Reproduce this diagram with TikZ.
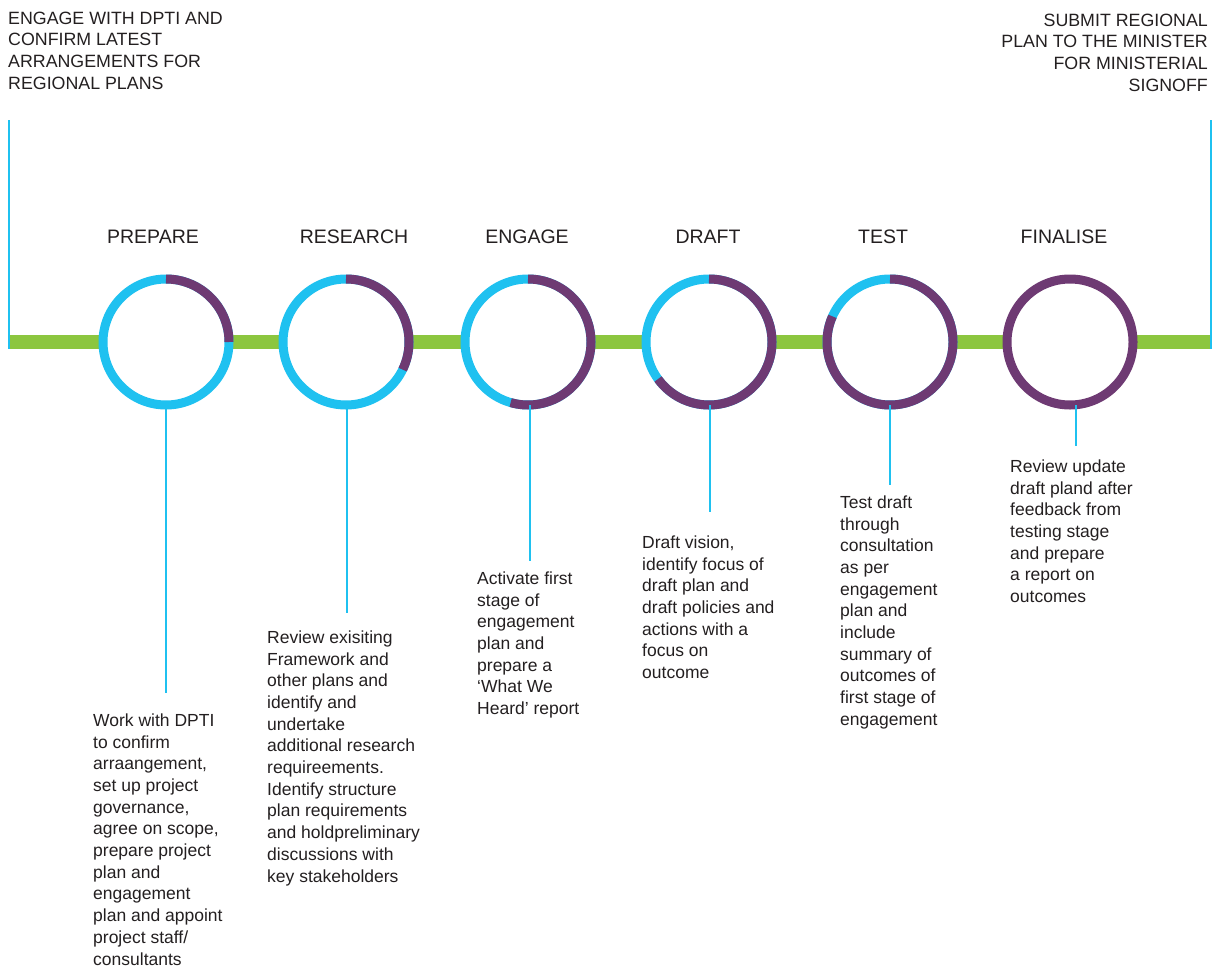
\documentclass[tikz,border=0pt]{standalone}
\usepackage{fontspec}
\setmainfont{Liberation Sans}
\definecolor{ringblue}{HTML}{1FC1F0}
\definecolor{ringpurple}{HTML}{6E3A73}
\definecolor{bargreen}{HTML}{8CC63F}
\definecolor{ink}{HTML}{231F20}

\begin{document}
\begin{tikzpicture}[x=1pt,y=-1pt,
  ring/.style={circle, minimum size=126pt, inner sep=0pt, outer sep=0pt,
               draw=ringblue, line width=9pt, fill=white},
  done/.style={draw=ringpurple, line width=9pt},
  stem/.style={draw=ringblue, line width=2.5pt},
  sideline/.style={draw=ringblue, line width=2pt},
  heading/.style={font=\fontsize{19.5}{24}\selectfont, text=ink, inner sep=0pt},
  body/.style={font=\fontsize{17.5}{21.7}\selectfont, text=ink, align=left,
               inner sep=0pt, anchor=north west},
  topnote/.style={font=\fontsize{17.8}{21.7}\selectfont, text=ink, inner sep=0pt},
]
\useasboundingbox (0,0) rectangle (1214,969);

% timeline bar and its two end markers
\coordinate (barL) at (9,342);
\coordinate (barR) at (1211,342);
\draw[bargreen, line width=14pt] (barL) -- (barR);
\coordinate (lt) at (9,120);
\coordinate (lb) at (9,349);
\coordinate (rt) at (1211,120);
\coordinate (rb) at (1211,349);
\draw[sideline] (lt) -- (lb);
\draw[sideline] (rt) -- (rb);

% start and end notes
\node[topnote, anchor=north west, align=left] (start) at (8,11.5)
  {ENGAGE WITH DPTI AND\\CONFIRM LATEST\\ARRANGEMENTS FOR\\REGIONAL PLANS};
\node[topnote, anchor=north east, align=right] (finish) at (1208,13.5)
  {SUBMIT REGIONAL\\PLAN TO THE MINISTER\\FOR MINISTERIAL\\SIGNOFF};

% stage rings
\node[ring] (c1) at (166,342) {};
\node[ring] (c2) at (346,342) {};
\node[ring] (c3) at (528,342) {};
\node[ring] (c4) at (709,342) {};
\node[ring] (c5) at (890,342) {};
\node[ring, draw=ringpurple] (c6) at (1070,342) {};

% progress arcs
\draw[done] (c1.90) arc[start angle=90, end angle=0, radius=63pt];
\draw[done] (c2.90) arc[start angle=90, end angle=-26, radius=63pt];
\draw[done] (c3.90) arc[start angle=90, end angle=-106, radius=63pt];
\draw[done] (c4.90) arc[start angle=90, end angle=-144, radius=63pt];
\draw[done] (c5.90) arc[start angle=90, end angle=-204, radius=63pt];

% stage headings
\node[heading] (h1) at (153,237) {PREPARE};
\node[heading] (h2) at (354,237) {RESEARCH};
\node[heading] (h3) at (527,237) {ENGAGE};
\node[heading] (h4) at (708,237) {DRAFT};
\node[heading] (h5) at (883,237) {TEST};
\node[heading] (h6) at (1064,237) {FINALISE};

% stage descriptions
\node[body] (t1) at (93,713.5)
  {Work with DPTI\\to confirm\\arraangement,\\set up project\\governance,\\agree on scope,\\prepare project\\plan and\\engagement\\plan and appoint\\project staff/\\consultants};
\node[body] (t2) at (267,630.5)
  {Review exisiting\\Framework and\\other plans and\\identify and\\undertake\\additional research\\requireements.\\Identify structure\\plan requirements\\and holdpreliminary\\discussions with\\key stakeholders};
\node[body] (t3) at (477,571.5)
  {Activate first\\stage of\\engagement\\plan and\\prepare a\\`What We\\Heard' report};
\node[body] (t4) at (642,535.5)
  {Draft vision,\\identify focus of\\draft plan and\\draft policies and\\actions with a\\focus on\\outcome};
\node[body] (t5) at (840,495.5)
  {Test draft\\through\\consultation\\as per\\engagement\\plan and\\include\\summary of\\outcomes of\\first stage of\\engagement};
\node[body] (t6) at (1010,459.5)
  {Review update\\draft pland after\\feedback from\\testing stage\\and prepare\\a report on\\outcomes};

% stems from rings down to descriptions
\coordinate (s1) at (166,693);
\coordinate (s2) at (347,613);
\coordinate (s3) at (530,561);
\coordinate (s4) at (710,512);
\coordinate (s5) at (890,485);
\coordinate (s6) at (1076,446);
\draw[stem] (s1 |- c1.south) -- (s1);
\draw[stem] (s2 |- c2.south) -- (s2);
\draw[stem] (s3 |- c3.south) -- (s3);
\draw[stem] (s4 |- c4.south) -- (s4);
\draw[stem] (s5 |- c5.south) -- (s5);
\draw[stem] (s6 |- c6.south) -- (s6);
\end{tikzpicture}
\end{document}
